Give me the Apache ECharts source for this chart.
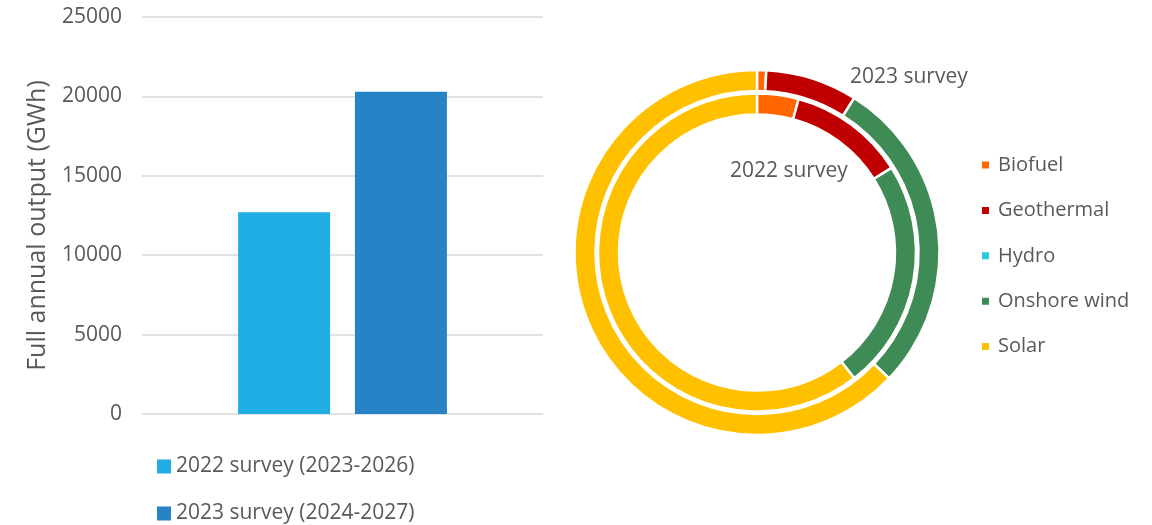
<!DOCTYPE html>
<html>
<head>
<meta charset="utf-8">
<script src="https://cdn.jsdelivr.net/npm/echarts@6/dist/echarts.min.js"></script>
<style>
  html, body { margin: 0; padding: 0; background: #ffffff; }
  #chart { width: 1152px; height: 525px; }
</style>
</head>
<body>
<div id="chart"></div>
<script>
// Full annual output by survey (GWh)
const surveyNames = ['2022 survey (2023-2026)', '2023 survey (2024-2027)'];
const surveyTotals = [12700, 20300];
const yTicks = [0, 5000, 10000, 15000, 20000, 25000];

// Output by technology for each survey (GWh)
const technologies = ['Biofuel', 'Geothermal', 'Hydro', 'Onshore wind', 'Solar'];
const survey2022 = [535, 1505, 0, 2980, 7680];
const survey2023 = [165, 1650, 0, 5720, 12765];
const ringLabels = ['2022 survey', '2023 survey'];

const barColors = ['#1FADE3', '#2683C6'];
const techColors = ['#FF6600', '#C00000', '#29CCDA', '#3F8B55', '#FFC000'];
const textColor = '#595959';
const fontFamily = '"Open Sans", "Noto Sans", sans-serif';

const chart = echarts.init(document.getElementById('chart'));

function ringData(values) {
  return technologies.map((name, i) => ({
    name,
    value: values[i],
    itemStyle: { color: techColors[i] }
  }));
}

const barSeries = surveyNames.map((name, i) => ({
  name,
  type: 'bar',
  xAxisIndex: 0,
  yAxisIndex: 0,
  barWidth: 92,
  barGap: '27%',
  itemStyle: { color: barColors[i] },
  data: [surveyTotals[i]],
  silent: true
}));

const ringStyle = { borderColor: '#ffffff', borderWidth: 2.5 };

chart.setOption({
  animation: false,
  textStyle: { fontFamily, color: textColor },
  grid: { left: 142, right: 609, top: 17, bottom: 111 },
  xAxis: {
    type: 'category',
    data: [''],
    axisLine: { show: false },
    axisTick: { show: false },
    axisLabel: { show: false }
  },
  yAxis: {
    type: 'value',
    min: yTicks[0],
    max: yTicks[yTicks.length - 1],
    interval: yTicks[1] - yTicks[0],
    name: 'Full annual output (GWh)',
    nameLocation: 'middle',
    nameGap: 92,
    nameRotate: 90,
    nameTextStyle: { fontSize: 25, color: textColor, fontFamily, padding: [0, 20, 0, 0] },
    axisLine: { show: false },
    axisTick: { show: false },
    axisLabel: {
      fontSize: 21,
      color: textColor,
      margin: 20,
      fontFamily,
      formatter: (v) => String(v)
    },
    splitLine: { lineStyle: { color: '#D9D9D9', width: 1.5 } }
  },
  legend: [
    {
      data: surveyNames,
      orient: 'vertical',
      left: 157,
      top: 456,
      height: 80,
      padding: 0,
      itemWidth: 14,
      itemHeight: 14,
      itemGap: 26,
      icon: 'rect',
      textStyle: { fontSize: 21, lineHeight: 20, color: textColor, fontFamily },
      selectedMode: false
    },
    {
      data: technologies,
      orient: 'vertical',
      left: 980,
      top: 155,
      height: 220,
      padding: 0,
      itemWidth: 9,
      itemHeight: 9,
      itemGap: 25.4,
      icon: 'rect',
      textStyle: { fontSize: 20, lineHeight: 20, color: textColor, fontFamily, padding: [0, 0, 0, 3] },
      selectedMode: false
    }
  ],
  series: barSeries.concat([
    {
      name: ringLabels[0],
      type: 'pie',
      center: [757, 252.5],
      radius: [138, 159],
      startAngle: 90,
      clockwise: true,
      label: { show: false },
      labelLine: { show: false },
      itemStyle: ringStyle,
      silent: true,
      data: ringData(survey2022)
    },
    {
      name: ringLabels[1],
      type: 'pie',
      center: [757, 252.5],
      radius: [161.5, 182.5],
      startAngle: 90,
      clockwise: true,
      label: { show: false },
      labelLine: { show: false },
      itemStyle: ringStyle,
      silent: true,
      data: ringData(survey2023)
    }
  ]),
  graphic: [
    {
      type: 'text',
      left: 850,
      top: 67,
      style: { text: ringLabels[1], fontSize: 21, fill: textColor, fontFamily }
    },
    {
      type: 'text',
      left: 730,
      top: 161,
      style: { text: ringLabels[0], fontSize: 21, fill: textColor, fontFamily }
    }
  ]
});
</script>
</body>
</html>
